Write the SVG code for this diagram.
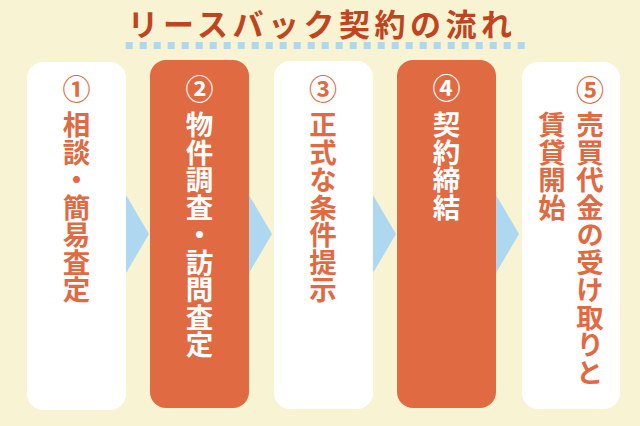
<svg xmlns="http://www.w3.org/2000/svg" width="640" height="426" viewBox="0 0 640 426">
<style>
.bg{fill:#f8f3d3}
.w{fill:#ffffff}
.o{fill:#e06a42}
.arr{fill:#aed8ef}
.t{font-family:"Noto Sans CJK JP","Noto Sans CJK SC",sans-serif;font-weight:bold}
.num{font-size:28px;text-anchor:middle}
.v{font-size:27.5px;writing-mode:vertical-rl;text-orientation:upright}
.to{fill:#e06a42}
.tw{fill:#ffffff}
</style>
<rect class="bg" x="0" y="0" width="640" height="426"/>
<g id="title">
<text class="t" x="322" y="36" font-size="31" letter-spacing="4.5" text-anchor="middle" fill="#bf4520">リースバック契約の流れ</text>
<line x1="125.7" y1="45.5" x2="525" y2="45.5" stroke="#aed8ef" stroke-width="7" stroke-dasharray="7 7"/>
</g>
<g id="connectors">
<polygon class="arr" points="126,195 149,234 126,273"/>
<polygon class="arr" points="249,195 272,234 249,273"/>
<polygon class="arr" points="373,195 396,234 373,273"/>
<polygon class="arr" points="496,195 519,234 496,273"/>
</g>
<g id="step1">
<rect class="w" x="27" y="62" width="99" height="348" rx="16"/>
<text class="t num to" x="76.5" y="100">①</text>
<text class="t v to" x="76.5" y="111">相談・簡易査定</text>
</g>
<g id="step2">
<rect class="o" x="150" y="60" width="99" height="348" rx="16"/>
<text class="t num tw" x="199.5" y="100">②</text>
<text class="t v tw" x="199.5" y="111">物件調査・訪問査定</text>
</g>
<g id="step3">
<rect class="w" x="274" y="61" width="99" height="348" rx="16"/>
<text class="t num to" x="323" y="100">③</text>
<text class="t v to" x="323" y="111">正式な条件提示</text>
</g>
<g id="step4">
<rect class="o" x="397" y="60" width="99" height="348" rx="16"/>
<text class="t num tw" x="446.5" y="99">④</text>
<text class="t v tw" x="446.5" y="111">契約締結</text>
</g>
<g id="step5">
<rect class="w" x="522" y="62" width="98" height="347" rx="16"/>
<text class="t num to" x="590" y="101">⑤</text>
<text class="t v to" x="590" y="111">売買代金の受け取りと</text>
<text class="t v to" x="552" y="111">賃貸開始</text>
</g>
</svg>
